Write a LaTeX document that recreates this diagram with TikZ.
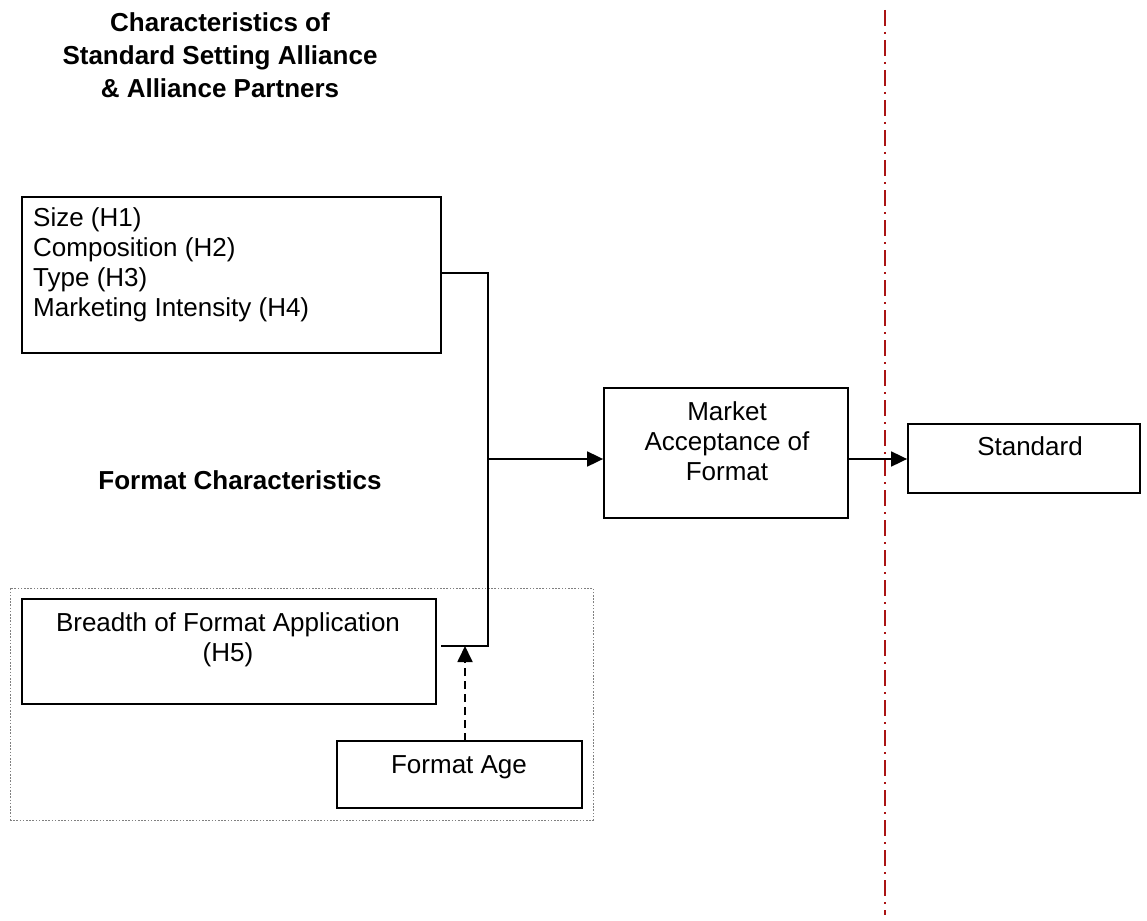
\documentclass[tikz,border=0pt]{standalone}
\usepackage{fontspec}
\setmainfont{Liberation Sans}
\usetikzlibrary{arrows.meta}
\definecolor{divred}{RGB}{170,20,20}
\begin{document}
\begin{tikzpicture}[x=1pt,y=-1pt,
  box/.style={draw,line width=1.8pt,inner sep=0pt},
  txt/.style={inner sep=0pt,font=\fontsize{26}{30}\selectfont},
  head/.style={inner sep=0pt,align=center,font=\fontsize{26}{33}\selectfont\bfseries},
  conn/.style={line width=1.8pt},
  arr/.style={conn,-{Triangle[length=16pt,width=15pt]}}]
\useasboundingbox (0,0) rectangle (1147,920);
% divider
\draw[divred,line width=1.6pt,dash pattern=on 16pt off 6pt on 2pt off 6pt] (885,10) -- (885,915);
% headings
\node[head,anchor=base] (h1) at (220,97.5) {Characteristics of\\Standard Setting Alliance\\\& Alliance Partners};
\node[head,anchor=base] (h2) at (240,489) {Format Characteristics};
% boxes
\node[box,minimum width=419pt,minimum height=156pt] (b1) at (231.5,275) {};
\node[txt,anchor=base west,align=left] (t1) at (33,316) {Size (H1)\\Composition (H2)\\Type (H3)\\Marketing Intensity (H4)};
\node[box,minimum width=244pt,minimum height=130pt] (mkt) at (726,453) {};
\node[txt,anchor=base,align=center] (tm) at (727,480) {Market\\Acceptance of\\Format};
\node[box,minimum width=232pt,minimum height=69pt] (std) at (1024,458.5) {};
\node[txt,anchor=base] (ts) at (1030,455) {Standard};
\node[draw=gray,line width=0.8pt,dash pattern=on 1.6pt off 1.6pt,inner sep=0pt,minimum width=583pt,minimum height=232pt] (fc) at (301.5,704) {};
\node[box,minimum width=414pt,minimum height=105pt] (b5) at (229,651.5) {};
\node[txt,anchor=base,align=center] (t5) at (228,661) {Breadth of Format Application\\(H5)};
\node[box,minimum width=245pt,minimum height=67pt] (age) at (459.5,774.5) {};
\node[txt,anchor=base] (ta) at (459,773) {Format Age};
% connectors
\coordinate (j2) at (488,459);
\coordinate (j3) at (488,646);
\coordinate (b5e) at (441,646);
\coordinate (agetop) at (465,741);
\draw[conn] (b1.east |- 0,273) -| (j3) -- (b5e);
\draw[arr] (j2) -- (j2 -| mkt.west);
\draw[arr] (mkt.east |- j2) -- (std.west |- j2);
\draw[arr,dash pattern=on 8pt off 5pt] (agetop) -- (agetop |- j3);
\end{tikzpicture}
\end{document}
